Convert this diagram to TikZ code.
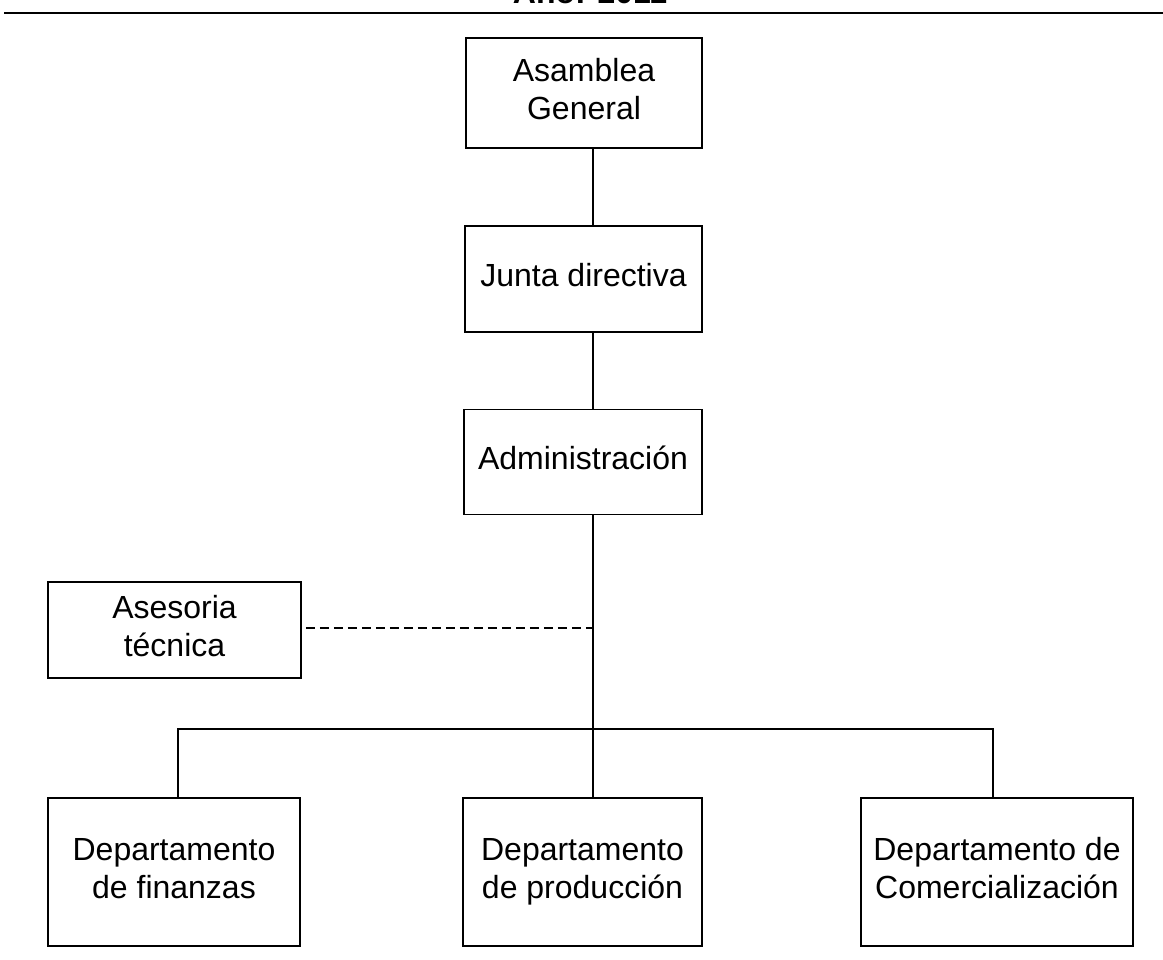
\documentclass[tikz,border=0pt]{standalone}
\usepackage{fontspec}
\setmainfont{Liberation Sans}
% strut centred on the cap height and deeper than any descender,
% so every box sets its lines alike
\newcommand\capstrut{\rule[-8pt]{0pt}{31pt}}
\begin{document}
\begin{tikzpicture}[x=1pt,y=-1pt,
  unit/.style={draw, line width=1.6pt, align=center, inner sep=0pt,
    font=\fontsize{32}{38}\selectfont},
  link/.style={line width=1.6pt},
  staff/.style={line width=1.4pt, dash pattern=on 9pt off 5pt}]
\useasboundingbox (0,0) rectangle (1163,960);

% heading (partly above the page) and rule
\node[anchor=base, font=\fontsize{32}{38}\selectfont\bfseries] (title) at (590,4) {Año: 2011};
\coordinate (ruleL) at (4,13);
\coordinate (ruleR) at (1163,13);
\draw[line width=1.8pt] (ruleL) -- (ruleR);

% units
\node[unit, minimum width=236pt, minimum height=110pt] (ag)  at (584,93)    {\capstrut Asamblea\\General\capstrut};
\node[unit, minimum width=237pt, minimum height=106pt] (jd)  at (583.5,279) {\capstrut Junta directiva};
\node[unit, minimum width=238pt, minimum height=105pt] (adm) at (583,462)   {\capstrut Administración};
\node[unit, minimum width=253pt, minimum height=96pt]  (ase) at (174.5,630) {\capstrut Asesoria\\técnica\capstrut};
\node[unit, minimum width=252pt, minimum height=148pt] (fin) at (174,872)   {\capstrut Departamento\\de finanzas\capstrut};
\node[unit, minimum width=239pt, minimum height=148pt] (prod) at (582.5,872) {\capstrut Departamento\\de producción\capstrut};
\node[unit, minimum width=272pt, minimum height=148pt] (com) at (997,872)   {\capstrut Departamento de\\Comercialización\capstrut};

% spine and branches
\coordinate (spine) at (593,0);
\coordinate (busL) at (178,729);
\coordinate (busR) at (993,729);
\coordinate (staffpt) at (593,628);

\draw[link] (ag.south -| spine) -- (jd.north -| spine);
\draw[link] (jd.south -| spine) -- (adm.north -| spine);
\draw[link] (adm.south -| spine) -- (prod.north -| spine);
\draw[link] (fin.north -| busL) -- (busL) -- (busR) -- (com.north -| busR);
\draw[staff] (ase.east) ++(4,-2) -- (staffpt);
\end{tikzpicture}
\end{document}
